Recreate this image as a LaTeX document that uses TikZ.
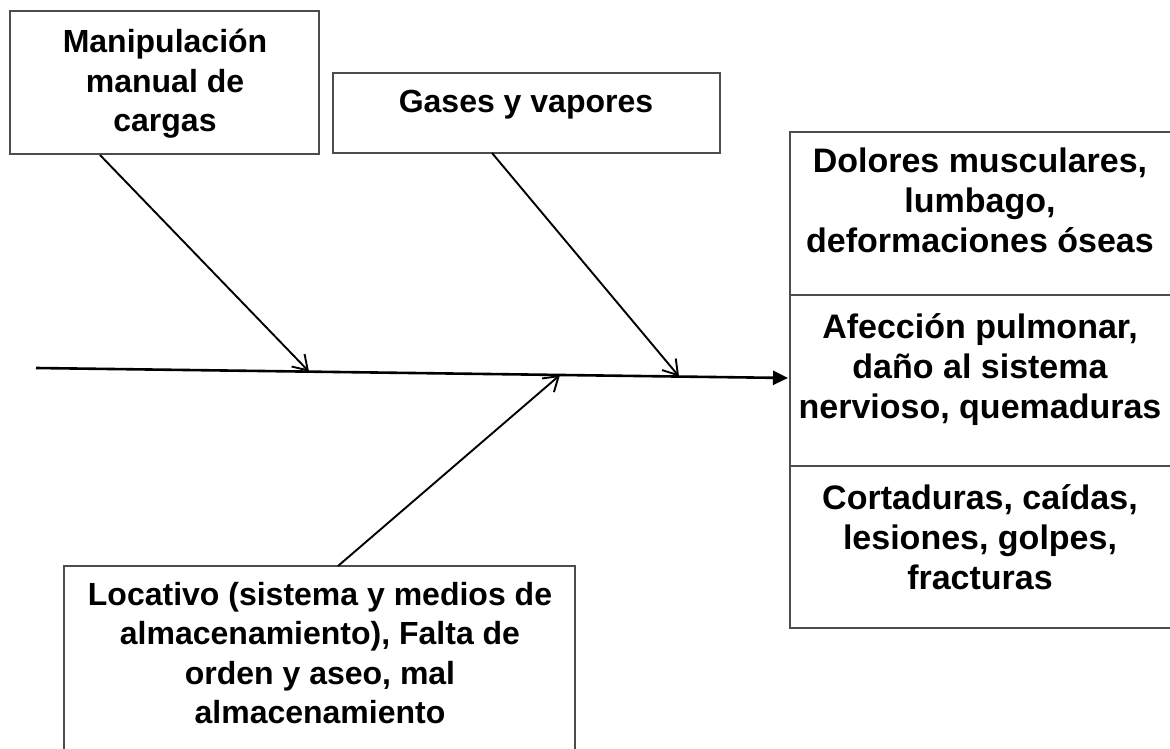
\documentclass[tikz,border=0pt]{standalone}
\usepackage{fontspec}
\setmainfont{Liberation Sans}
\usetikzlibrary{arrows.meta}
\begin{document}
\begin{tikzpicture}[x=1pt,y=-1pt,
  box/.style={draw=black!70, line width=1.3pt, rectangle, inner sep=0pt, outer sep=0pt, anchor=north west},
  txt/.style={font=\bfseries\fontsize{32}{39.5}\selectfont, align=center, inner sep=0pt},
  efftxt/.style={txt, font=\bfseries\fontsize{34}{40}\selectfont},
  branch/.style={line width=1.9pt, -{Straight Barb[length=14pt,width=18pt,line width=1.9pt]}},
  spine/.style={line width=2.6pt, -{Triangle[length=15pt,width=14pt]}}]
\useasboundingbox (0,0) rectangle (1170,749);
\clip (0,0) rectangle (1170,749);
\fill[white] (0,0) rectangle (1170,749);
% cause boxes
\node[box, minimum width=309pt, minimum height=143pt] (b1) at (10,11) {};
\node[txt] (l1) at (165,84) {Manipulación\\manual de\\cargas};
\node[box, minimum width=387pt, minimum height=80pt] (b2) at (333,73) {};
\node[txt] (l2) at (526,105) {Gases y vapores};
\node[box, minimum width=511pt, minimum height=210pt] (b3) at (64,566) {};
\node[txt] (l3) at (320,653) {Locativo (sistema y medios de\\almacenamiento), Falta de\\orden y aseo, mal\\almacenamiento};
% effect boxes
\node[box, minimum width=385pt, minimum height=163pt] (r1) at (790,132) {};
\node[efftxt] (m1) at (980,200) {Dolores musculares,\\lumbago,\\deformaciones óseas};
\node[box, minimum width=385pt, minimum height=171pt] (r2) at (790,295) {};
\node[efftxt] (m2) at (980,370) {Afección pulmonar,\\daño al sistema\\nervioso, quemaduras};
\node[box, minimum width=385pt, minimum height=162pt] (r3) at (790,466) {};
\node[efftxt] (m3) at (980,537) {Cortaduras, caídas,\\lesiones, golpes,\\fracturas};
% spine
\coordinate (s0) at (36,368);
\coordinate (s1) at (788,378);
\draw[spine] (s0) -- (s1);
% branches
\coordinate (a1) at (100,155);
\coordinate (e1) at (309,371.6);
\coordinate (a2) at (492,153);
\coordinate (e2) at (679,376.4);
\coordinate (a3) at (338,566);
\coordinate (e3) at (560,375);
\draw[branch] (a1) -- (e1);
\draw[branch] (a2) -- (e2);
\draw[branch] (a3) -- (e3);
\end{tikzpicture}
\end{document}
